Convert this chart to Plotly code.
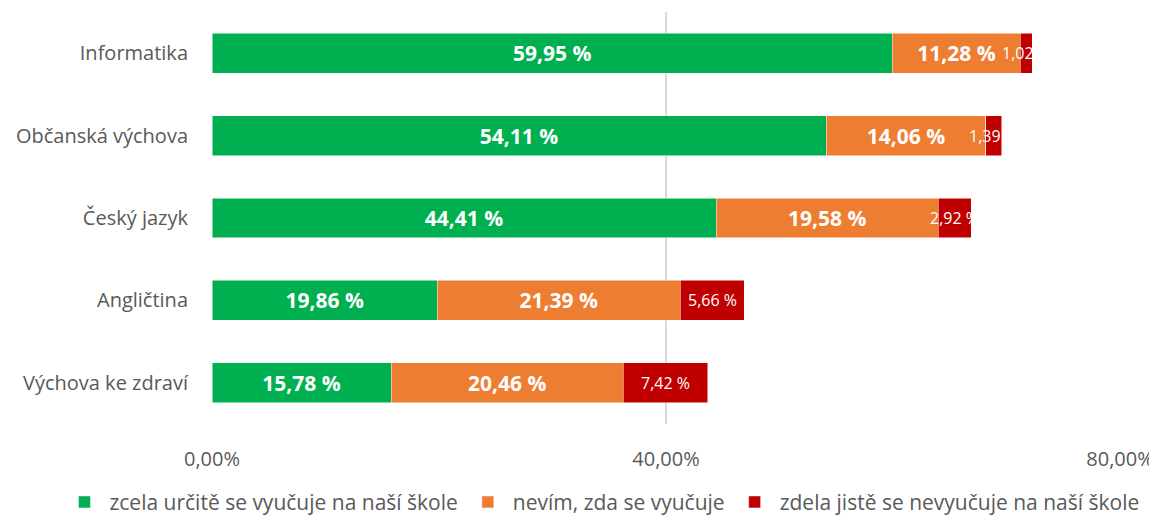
import plotly.graph_objects as go

categories = ["Informatika", "Občanská výchova", "Český jazyk", "Angličtina", "Výchova ke zdraví"]
series_names = ["zcela určitě se vyučuje na naší škole", "nevím, zda se vyučuje", "zdela jistě se nevyučuje na naší škole"]
green_vals = [59.95, 54.11, 44.41, 19.86, 15.78]
orange_vals = [11.28, 14.06, 19.58, 21.39, 20.46]
red_vals = [1.02, 1.39, 2.92, 5.66, 7.42]
x_tickvals = [0, 40, 80]
x_ticktext = ["0,00%", "40,00%", "80,00%"]

colors = ["#00B050", "#ED7D31", "#C00000"]
font_family = "'Open Sans', sans-serif"

def fmt(v):
    return f"{v:.2f}".replace(".", ",") + " %"

fig = go.Figure()
for name, vals, col, show_text in zip(series_names, [green_vals, orange_vals, red_vals], colors, [True, True, False]):
    fig.add_trace(go.Bar(
        y=categories, x=vals, name=name, orientation="h",
        marker=dict(color=col, line=dict(color="white", width=0.5)),
        text=[f"<b>{fmt(v)}</b>" for v in vals] if show_text else None,
        textposition="inside" if show_text else "none",
        insidetextanchor="middle",
        constraintext="none",
        textfont=dict(color="white", size=21, family=font_family),
        hoverinfo="skip",
    ))

# red-segment labels as annotations (small segments let text overflow)
for cat, g, o, r in zip(categories, green_vals, orange_vals, red_vals):
    fig.add_annotation(x=g + o + r / 2, y=cat, text=fmt(r), showarrow=False,
                       xref="x", yref="y", xanchor="center",
                       font=dict(color="white", size=16, family=font_family))

fig.update_layout(
    barmode="stack",
    bargap=0.515,
    width=1149, height=509,
    margin=dict(l=204, r=37, t=4, b=93, autoexpand=False),
    plot_bgcolor="white", paper_bgcolor="white",
    font=dict(family=font_family, color="#595959", size=20),
    xaxis=dict(range=[0, 80], tickvals=x_tickvals, ticktext=x_ticktext,
               showgrid=True, gridcolor="#D9D9D9", gridwidth=1.5, zeroline=False,
               ticks="outside", ticklen=17, tickcolor="rgba(0,0,0,0)",
               tickfont=dict(size=20, color="#595959"), showline=False, automargin=False),
    yaxis=dict(autorange="reversed", ticks="outside", ticklen=19, tickcolor="rgba(0,0,0,0)",
               tickfont=dict(size=20, color="#595959"), showline=False, automargin=False),
    legend=dict(orientation="h", xref="paper", yref="paper", x=-0.168, xanchor="left",
                y=-0.19, yanchor="middle", font=dict(size=21, color="#595959"),
                traceorder="normal", itemwidth=40),
)

fig.write_html("out.html")
